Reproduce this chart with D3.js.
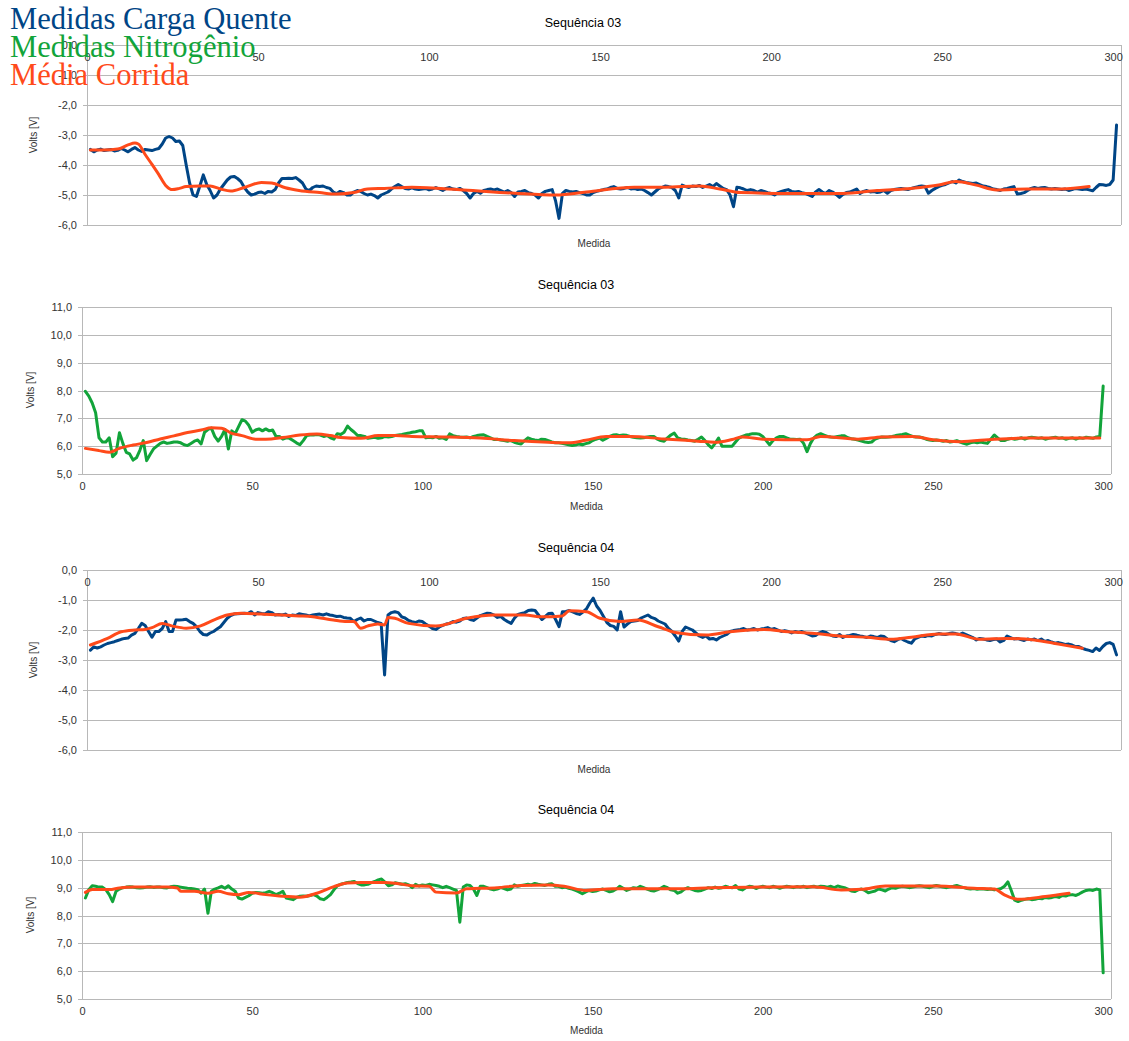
<!DOCTYPE html>
<html>
<head>
<meta charset="utf-8">
<script src="https://cdn.jsdelivr.net/npm/d3@7"></script>
<style>
  html, body { margin: 0; padding: 0; background: #ffffff; }
  svg { display: block; }
</style>
</head>
<body>
<svg id="chart" width="1129" height="1041"></svg>
<script>
// ---------------- DATA ----------------
const legendLabels = ["Medidas Carga Quente", "Medidas Nitrogênio", "Média Corrida"];
const panelTitles = ["Sequência 03", "Sequência 03", "Sequência 04", "Sequência 04"];
const xTicks = [0, 50, 100, 150, 200, 250, 300];
const yTicksNeg = [0, -1, -2, -3, -4, -5, -6];
const yTicksPos = [5, 6, 7, 8, 9, 10, 11];

// Sequência 03 – Carga Quente (x = 1..301)
const seq03Carga = [
 -3.48,-3.56,-3.5,-3.47,-3.52,-3.5,-3.48,-3.53,-3.51,-3.45,
 -3.5,-3.56,-3.48,-3.42,-3.5,-3.55,-3.48,-3.5,-3.52,-3.48,
 -3.45,-3.3,-3.1,-3.05,-3.1,-3.22,-3.2,-3.35,-4.0,-4.6,
 -5.0,-5.05,-4.7,-4.33,-4.65,-4.85,-5.1,-5.0,-4.8,-4.65,
 -4.5,-4.4,-4.38,-4.45,-4.55,-4.75,-4.9,-5.0,-4.97,-4.92,
 -4.9,-4.95,-4.88,-4.9,-4.82,-4.6,-4.45,-4.45,-4.44,-4.45,
 -4.42,-4.5,-4.6,-4.8,-4.85,-4.75,-4.7,-4.72,-4.7,-4.75,
 -4.78,-4.9,-4.95,-4.88,-4.92,-5.0,-5.0,-4.9,-4.85,-4.88,
 -4.95,-5.0,-4.97,-5.02,-5.1,-5.0,-4.95,-4.9,-4.8,-4.72,
 -4.65,-4.72,-4.78,-4.8,-4.76,-4.8,-4.82,-4.8,-4.78,-4.83,
 -4.8,-4.75,-4.8,-4.85,-4.78,-4.75,-4.8,-4.82,-4.78,-4.85,
 -4.95,-5.1,-4.95,-4.88,-4.94,-4.85,-4.82,-4.8,-4.83,-4.8,
 -4.85,-4.9,-4.85,-4.92,-5.05,-4.9,-4.88,-4.85,-4.92,-4.95,
 -5.0,-5.1,-4.95,-4.88,-4.85,-4.82,-5.2,-5.78,-4.95,-4.85,
 -4.88,-4.9,-4.88,-4.92,-4.95,-5.0,-5.0,-4.92,-4.88,-4.85,
 -4.82,-4.8,-4.75,-4.72,-4.78,-4.8,-4.78,-4.75,-4.8,-4.78,
 -4.82,-4.8,-4.85,-4.92,-5.0,-4.9,-4.8,-4.75,-4.7,-4.72,
 -4.75,-4.85,-5.1,-4.67,-4.72,-4.75,-4.7,-4.72,-4.68,-4.75,
 -4.7,-4.65,-4.72,-4.62,-4.7,-4.78,-4.82,-5.0,-5.39,-4.74,
 -4.76,-4.8,-4.85,-4.82,-4.85,-4.9,-4.85,-4.88,-4.92,-4.95,
 -5.0,-4.92,-4.88,-4.85,-4.82,-4.88,-4.9,-4.88,-4.92,-4.95,
 -5.0,-5.05,-4.9,-4.82,-4.9,-4.95,-4.85,-4.9,-4.98,-5.08,
 -4.98,-4.92,-4.9,-4.85,-4.8,-4.95,-4.88,-4.85,-4.9,-4.88,
 -4.92,-4.9,-4.85,-4.94,-4.85,-4.82,-4.8,-4.78,-4.8,-4.82,
 -4.78,-4.75,-4.72,-4.7,-4.72,-4.94,-4.85,-4.78,-4.72,-4.68,
 -4.65,-4.6,-4.55,-4.6,-4.5,-4.55,-4.58,-4.6,-4.62,-4.6,
 -4.65,-4.7,-4.72,-4.75,-4.8,-4.82,-4.85,-4.8,-4.78,-4.75,
 -4.72,-4.97,-4.95,-4.92,-4.85,-4.78,-4.75,-4.78,-4.76,-4.75,
 -4.78,-4.8,-4.78,-4.8,-4.82,-4.8,-4.85,-4.82,-4.78,-4.8,
 -4.82,-4.8,-4.83,-4.86,-4.75,-4.65,-4.66,-4.68,-4.65,-4.5,
 -2.67
];
const seq03CargaMediaX = [1,5,9,12,14,15,17,19,21,23,25,27,29,33,36,39,42,46,51,54,58,62,68,73,78,82,87,95,110,125,137,146,160,169,179,185,191,206,221,231,241,249,254,260,266,275,285,293];
const seq03CargaMediaY = [-3.5,-3.5,-3.47,-3.33,-3.27,-3.3,-3.65,-3.98,-4.32,-4.68,-4.82,-4.78,-4.72,-4.7,-4.7,-4.8,-4.87,-4.75,-4.58,-4.6,-4.76,-4.85,-4.92,-4.97,-4.92,-4.8,-4.78,-4.74,-4.83,-4.94,-5.0,-4.9,-4.74,-4.74,-4.7,-4.8,-4.92,-4.95,-4.95,-4.85,-4.78,-4.67,-4.55,-4.67,-4.83,-4.8,-4.8,-4.72];

// Sequência 03 – Nitrogênio (x = 1..300)
const seq03Nitro = [
 7.97,7.8,7.55,7.2,6.3,6.15,6.15,6.3,5.62,5.75,
 6.48,6.1,5.78,5.72,5.5,5.58,5.85,6.2,5.48,5.7,
 5.9,6.0,6.1,6.15,6.1,6.12,6.15,6.15,6.12,6.05,
 6.02,6.1,6.18,6.22,6.08,6.5,6.6,6.65,6.35,6.18,
 6.35,6.6,5.9,6.55,6.45,6.7,6.95,6.9,6.75,6.5,
 6.58,6.62,6.55,6.62,6.55,6.58,6.35,6.35,6.25,6.3,
 6.28,6.2,6.12,6.05,6.2,6.38,6.4,6.4,6.42,6.4,
 6.35,6.38,6.3,6.25,6.45,6.42,6.5,6.72,6.6,6.5,
 6.38,6.38,6.35,6.28,6.3,6.32,6.28,6.3,6.35,6.33,
 6.35,6.38,6.4,6.42,6.45,6.47,6.5,6.52,6.55,6.55,
 6.3,6.32,6.3,6.35,6.28,6.3,6.24,6.44,6.38,6.35,
 6.33,6.32,6.33,6.3,6.35,6.38,6.4,6.41,6.35,6.3,
 6.24,6.25,6.22,6.2,6.18,6.2,6.14,6.1,6.08,6.2,
 6.3,6.25,6.22,6.2,6.25,6.24,6.2,6.15,6.12,6.12,
 6.1,6.08,6.05,6.02,6.04,6.08,6.05,6.09,6.12,6.2,
 6.25,6.29,6.21,6.28,6.35,6.4,6.41,6.38,6.4,6.39,
 6.35,6.32,6.3,6.29,6.3,6.33,6.35,6.35,6.25,6.2,
 6.18,6.3,6.4,6.47,6.3,6.26,6.25,6.22,6.2,6.18,
 6.25,6.33,6.2,6.05,5.94,6.1,6.29,6.0,6.0,6.0,
 6.0,6.15,6.29,6.35,6.4,6.42,6.45,6.45,6.43,6.35,
 6.2,6.05,6.2,6.3,6.35,6.35,6.3,6.25,6.25,6.24,
 6.25,6.1,5.8,6.1,6.3,6.4,6.45,6.4,6.35,6.33,
 6.32,6.35,6.37,6.37,6.3,6.27,6.25,6.22,6.18,6.15,
 6.13,6.15,6.25,6.3,6.33,6.32,6.33,6.35,6.38,6.4,
 6.42,6.45,6.4,6.35,6.33,6.33,6.3,6.25,6.22,6.2,
 6.22,6.2,6.18,6.2,6.15,6.17,6.2,6.15,6.1,6.07,
 6.12,6.15,6.12,6.15,6.12,6.1,6.25,6.4,6.3,6.2,
 6.2,6.25,6.28,6.25,6.27,6.3,6.25,6.3,6.32,6.3,
 6.28,6.3,6.25,6.28,6.3,6.32,6.28,6.3,6.25,6.28,
 6.3,6.25,6.3,6.28,6.32,6.3,6.28,6.33,6.35,8.16
];
const seq03NitroMediaX = [1,5,8,11,15,19,23,27,31,35,38,41,44,47,51,54,59,64,69,73,76,82,87,92,97,107,117,127,137,143,148,154,161,171,181,186,191,194,200,213,217,228,235,244,250,258,268,277,286,299];
const seq03NitroMediaY = [5.92,5.84,5.78,5.92,6.04,6.13,6.26,6.37,6.49,6.58,6.66,6.64,6.46,6.38,6.25,6.25,6.31,6.4,6.44,6.38,6.31,6.28,6.38,6.38,6.35,6.33,6.29,6.2,6.14,6.12,6.21,6.35,6.35,6.26,6.18,6.14,6.24,6.33,6.25,6.23,6.35,6.25,6.33,6.35,6.23,6.16,6.25,6.29,6.29,6.29];

// Sequência 04 – Carga Quente (x = 1..301)
const seq04Carga = [
 -2.67,-2.56,-2.6,-2.56,-2.5,-2.45,-2.42,-2.39,-2.35,-2.31,
 -2.28,-2.27,-2.17,-2.11,-1.95,-1.78,-1.85,-2.05,-2.24,-2.05,
 -2.05,-1.95,-1.72,-2.05,-2.05,-1.67,-1.67,-1.66,-1.64,-1.72,
 -1.78,-1.89,-2.05,-2.15,-2.17,-2.1,-2.05,-1.97,-1.89,-1.75,
 -1.61,-1.52,-1.47,-1.46,-1.45,-1.44,-1.45,-1.39,-1.5,-1.42,
 -1.45,-1.47,-1.39,-1.42,-1.5,-1.48,-1.5,-1.47,-1.55,-1.5,
 -1.52,-1.46,-1.48,-1.5,-1.53,-1.5,-1.48,-1.47,-1.5,-1.46,
 -1.5,-1.52,-1.55,-1.54,-1.58,-1.6,-1.61,-1.72,-1.65,-1.6,
 -1.7,-1.65,-1.65,-1.7,-1.75,-1.78,-3.5,-1.5,-1.42,-1.39,
 -1.42,-1.56,-1.6,-1.68,-1.72,-1.75,-1.7,-1.72,-1.8,-1.87,
 -1.95,-1.98,-1.9,-1.85,-1.8,-1.78,-1.72,-1.74,-1.7,-1.62,
 -1.6,-1.65,-1.68,-1.6,-1.52,-1.48,-1.44,-1.45,-1.5,-1.58,
 -1.55,-1.65,-1.72,-1.78,-1.6,-1.48,-1.45,-1.42,-1.35,-1.33,
 -1.35,-1.5,-1.65,-1.55,-1.45,-1.44,-1.65,-1.89,-1.39,-1.38,
 -1.35,-1.4,-1.45,-1.48,-1.4,-1.3,-1.1,-0.94,-1.2,-1.35,
 -1.55,-1.75,-1.85,-1.88,-2.0,-1.39,-1.9,-1.8,-1.72,-1.7,
 -1.68,-1.6,-1.55,-1.5,-1.58,-1.62,-1.7,-1.75,-1.8,-1.95,
 -2.05,-2.2,-2.37,-2.05,-1.9,-1.95,-2.0,-2.1,-2.2,-2.25,
 -2.2,-2.3,-2.28,-2.33,-2.25,-2.2,-2.15,-2.05,-2.02,-2.0,
 -1.98,-1.95,-2.0,-1.98,-1.95,-2.0,-1.97,-1.95,-1.92,-1.98,
 -1.95,-2.0,-2.05,-2.02,-2.05,-2.1,-2.05,-2.08,-2.05,-2.1,
 -2.15,-2.2,-2.18,-2.1,-2.05,-2.08,-2.15,-2.2,-2.22,-2.15,
 -2.25,-2.2,-2.18,-2.15,-2.17,-2.2,-2.22,-2.25,-2.2,-2.22,
 -2.25,-2.2,-2.22,-2.3,-2.35,-2.39,-2.32,-2.28,-2.35,-2.4,
 -2.44,-2.3,-2.25,-2.2,-2.22,-2.18,-2.2,-2.15,-2.12,-2.14,
 -2.15,-2.12,-2.1,-2.12,-2.15,-2.1,-2.15,-2.2,-2.25,-2.33,
 -2.28,-2.3,-2.33,-2.35,-2.32,-2.3,-2.4,-2.35,-2.2,-2.25,
 -2.3,-2.28,-2.32,-2.35,-2.3,-2.33,-2.3,-2.35,-2.3,-2.38,
 -2.35,-2.4,-2.44,-2.42,-2.45,-2.48,-2.47,-2.5,-2.55,-2.55,
 -2.61,-2.65,-2.68,-2.72,-2.6,-2.68,-2.55,-2.45,-2.42,-2.48,
 -2.83
];
const seq04CargaMediaX = [1,6,10,14,17,19,22,25,29,33,37,41,45,51,57,62,66,72,76,78,80,82,85,87,88,90,94,102,111,119,128,133,139,141,146,150,156,161,167,172,181,188,198,205,212,220,228,235,241,249,254,261,269,277,284,291];
const seq04CargaMediaY = [-2.5,-2.28,-2.06,-2.0,-1.98,-1.92,-1.78,-1.87,-1.94,-1.87,-1.67,-1.5,-1.44,-1.47,-1.5,-1.53,-1.56,-1.67,-1.72,-1.72,-1.94,-1.87,-1.8,-1.83,-1.58,-1.61,-1.78,-1.87,-1.61,-1.5,-1.5,-1.56,-1.53,-1.36,-1.39,-1.61,-1.72,-1.67,-1.89,-2.08,-2.17,-2.06,-1.98,-2.06,-2.11,-2.2,-2.24,-2.31,-2.24,-2.13,-2.13,-2.31,-2.28,-2.33,-2.47,-2.61];

// Sequência 04 – Nitrogênio (x = 1..300)
const seq04Nitro = [
 8.63,8.93,9.07,9.05,9.02,9.02,8.93,8.75,8.5,8.87,
 8.95,9.0,9.02,9.03,9.02,9.0,8.99,9.0,9.02,9.03,
 9.01,9.02,9.02,9.0,8.99,9.03,9.05,9.04,9.02,9.0,
 8.98,8.97,8.95,8.93,8.8,8.95,8.08,8.87,8.95,8.99,
 9.05,8.98,9.07,8.95,8.87,8.63,8.59,8.65,8.71,8.8,
 8.83,8.82,8.8,8.82,8.87,8.82,8.75,8.8,8.87,8.63,
 8.6,8.57,8.65,8.69,8.7,8.69,8.72,8.75,8.7,8.6,
 8.57,8.65,8.75,8.92,9.07,9.12,9.15,9.19,9.2,9.22,
 9.15,9.1,9.1,9.12,9.18,9.22,9.28,9.31,9.2,9.07,
 9.1,9.18,9.15,9.12,9.14,9.1,9.0,9.12,9.06,9.1,
 9.08,9.12,9.1,9.08,9.05,9.0,9.05,9.0,8.95,8.9,
 7.76,9.02,9.1,9.08,8.95,8.72,9.05,9.05,9.0,8.95,
 8.92,8.95,9.0,8.97,8.92,8.95,9.1,9.05,9.08,9.1,
 9.12,9.1,9.15,9.12,9.1,9.08,9.12,9.14,9.05,9.05,
 9.0,9.02,8.98,8.95,8.9,8.85,8.78,8.85,8.9,8.86,
 8.88,8.92,8.95,8.9,8.85,8.88,8.95,9.05,8.98,8.9,
 8.95,9.0,8.98,9.05,9.0,8.95,8.9,8.88,8.92,8.98,
 9.05,9.0,8.92,8.9,8.8,8.85,8.95,9.0,8.95,8.9,
 8.88,8.9,8.95,9.0,8.97,9.02,8.98,9.0,9.05,9.02,
 9.0,9.08,8.95,8.92,9.0,9.05,9.03,8.97,9.02,9.05,
 9.02,9.0,9.05,9.02,8.98,9.02,9.05,9.03,9.0,9.04,
 9.02,9.05,9.0,9.03,9.05,9.02,9.05,9.04,9.02,9.05,
 9.0,9.06,9.03,9.0,8.95,8.88,8.86,8.92,8.95,8.9,
 8.82,8.85,8.88,8.95,8.92,8.88,8.95,9.0,8.98,9.02,
 9.05,9.03,9.0,9.02,9.05,9.07,9.05,9.02,9.0,9.05,
 9.08,9.05,9.02,9.0,9.03,9.05,9.08,9.04,9.0,8.97,
 8.95,8.97,8.94,8.96,8.95,8.93,8.95,8.92,8.94,8.97,
 9.05,9.21,8.9,8.55,8.5,8.55,8.58,8.6,8.57,8.58,
 8.62,8.6,8.65,8.63,8.65,8.68,8.65,8.72,8.7,8.74,
 8.75,8.72,8.78,8.85,8.9,8.92,8.9,8.95,8.92,5.94
];
const seq04NitroMediaX = [1,3,8,11,15,20,25,28,29,33,37,40,43,46,49,54,59,64,69,74,78,82,86,89,93,97,102,104,110,113,122,129,137,142,148,156,166,176,185,199,215,223,229,236,251,262,268,271,275,283,290];
const seq04NitroMediaY = [8.83,8.93,8.93,8.99,9.02,9.02,9.02,8.99,8.87,8.87,8.8,8.87,8.78,8.75,8.83,8.75,8.69,8.66,8.8,9.04,9.17,9.19,9.19,9.19,9.14,9.07,9.05,8.84,8.81,8.96,9.0,9.08,9.1,9.04,8.9,8.96,8.96,8.96,9.0,9.02,9.03,8.92,8.94,9.06,9.06,8.98,8.95,8.74,8.58,8.68,8.8];

// ---------------- STYLE ----------------
const colBlue = "#004586";
const colGreen = "#12a43a";
const colOrange = "#ff4a1a";
const gridCol = "#b8b8b8";
const fontSans = "'Liberation Sans', Arial, sans-serif";

const locale = d3.formatLocale({decimal: ",", thousands: ".", grouping: [3], currency: ["", ""], minus: "-"});
const fmtY = locale.format(".1f");

const svg = d3.select("#chart");

const panels = [
  {rect: {l: 87, r: 1121, t: 45, b: 225}, yDomain: [-6, 0], yTicks: yTicksNeg, xAxisTop: true,
   data: seq03Carga, color: colBlue, mx: seq03CargaMediaX, my: seq03CargaMediaY,
   title: panelTitles[0], titlePos: [583, 27], medidaY: 247, voltsPos: [33, 135]},
  {rect: {l: 82, r: 1111, t: 307, b: 474}, yDomain: [5, 11], yTicks: yTicksPos, xAxisTop: false,
   data: seq03Nitro, color: colGreen, mx: seq03NitroMediaX, my: seq03NitroMediaY,
   title: panelTitles[1], titlePos: [576, 289], medidaY: 510, voltsPos: [30, 390]},
  {rect: {l: 87, r: 1121, t: 570, b: 750}, yDomain: [-6, 0], yTicks: yTicksNeg, xAxisTop: true,
   data: seq04Carga, color: colBlue, mx: seq04CargaMediaX, my: seq04CargaMediaY,
   title: panelTitles[2], titlePos: [576, 552], medidaY: 773, voltsPos: [33, 660]},
  {rect: {l: 82, r: 1111, t: 832, b: 999}, yDomain: [5, 11], yTicks: yTicksPos, xAxisTop: false,
   data: seq04Nitro, color: colGreen, mx: seq04NitroMediaX, my: seq04NitroMediaY,
   title: panelTitles[3], titlePos: [576, 814], medidaY: 1034, voltsPos: [30, 915]}
];

panels.forEach(p => {
  const R = p.rect;
  const x = d3.scaleLinear().domain([0, 302.3]).range([R.l, R.r]);
  const y = d3.scaleLinear().domain(p.yDomain).range([R.b, R.t]);
  const g = svg.append("g");

  const yAxis = d3.axisLeft(y).tickValues(p.yTicks).tickSize(-(R.r - R.l + 4)).tickSizeOuter(0)
    .tickFormat(d => fmtY(d)).tickPadding(6);
  const ga = g.append("g").attr("transform", `translate(${R.l - 4},0)`).call(yAxis);
  ga.select(".domain").remove();
  ga.selectAll(".tick line").attr("stroke", gridCol).attr("stroke-width", 1).attr("shape-rendering", "crispEdges");
  ga.selectAll(".tick text").attr("font-family", fontSans).attr("font-size", 11).attr("fill", "#333");

  g.append("line").attr("x1", R.l).attr("x2", R.l).attr("y1", R.t).attr("y2", R.b)
    .attr("stroke", gridCol).attr("shape-rendering", "crispEdges");
  g.append("line").attr("x1", R.r).attr("x2", R.r).attr("y1", R.t).attr("y2", R.b)
    .attr("stroke", gridCol).attr("shape-rendering", "crispEdges");

  const xAxisY = p.xAxisTop ? R.t : R.b;
  const xAxis = d3.axisBottom(x).tickValues(xTicks).tickSize(0).tickPadding(8).tickFormat(d => String(d));
  const gx = g.append("g").attr("transform", `translate(0,${xAxisY})`).call(xAxis);
  gx.select(".domain").remove();
  gx.selectAll(".tick text").attr("font-family", fontSans).attr("font-size", 11).attr("fill", "#333");

  const line = d3.line().x((d, i) => x(i + 1)).y(d => y(d)).curve(d3.curveLinear);
  g.append("path").datum(p.data).attr("d", line).attr("fill", "none")
    .attr("stroke", p.color).attr("stroke-width", 3).attr("stroke-linejoin", "round").attr("stroke-linecap", "round");

  const avgPts = p.mx.map((xv, i) => [xv, p.my[i]]);
  const line2 = d3.line().x(d => x(d[0])).y(d => y(d[1])).curve(d3.curveMonotoneX);
  g.append("path").datum(avgPts).attr("d", line2).attr("fill", "none")
    .attr("stroke", colOrange).attr("stroke-width", 3).attr("stroke-linejoin", "round").attr("stroke-linecap", "round");

  g.append("text").attr("x", p.titlePos[0]).attr("y", p.titlePos[1]).attr("text-anchor", "middle")
    .attr("font-family", fontSans).attr("font-size", 12.5).attr("fill", "#000").text(p.title);
  g.append("text").attr("x", (R.l + R.r) / 2 - 10).attr("y", p.medidaY).attr("text-anchor", "middle")
    .attr("font-family", fontSans).attr("font-size", 10).attr("fill", "#333").text("Medida");
  g.append("text").attr("transform", `translate(${p.voltsPos[0] + 4},${p.voltsPos[1]}) rotate(-90)`)
    .attr("text-anchor", "middle").attr("font-family", fontSans).attr("font-size", 10).attr("fill", "#333").text("Volts [V]");
});

// legend (drawn on top, overlapping the first plot as in the reference)
const legendColors = [colBlue, colGreen, colOrange];
const legendY = [29, 57, 85];
svg.append("g").selectAll("text").data(legendLabels).join("text")
  .attr("x", 10).attr("y", (d, i) => legendY[i])
  .attr("font-family", "'Liberation Serif', 'Times New Roman', serif").attr("font-size", 30.6)
  .attr("fill", (d, i) => legendColors[i]).text(d => d);
</script>
</body>
</html>
